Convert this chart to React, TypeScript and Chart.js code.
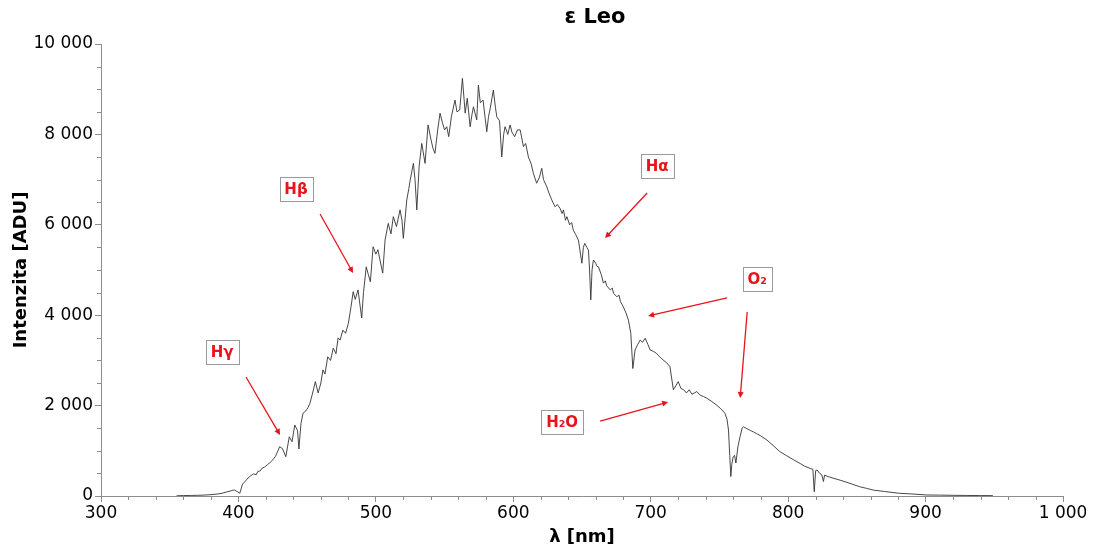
import { useEffect, useRef } from 'react';
import { Chart, registerables } from 'chart.js';

Chart.register(...registerables);

// ---- data ----
const wavelengths = [
  355, 360, 365, 370, 375, 380, 385, 388, 391, 394, 397, 399, 401, 403, 406, 408, 410, 411, 413, 414, 416, 417, 419, 421,
  423, 425, 427, 430, 432, 434.5, 437, 439, 441, 443, 444, 445.5, 447, 449, 450.5, 452, 454, 456, 458, 460, 461.5,
  463, 465, 467, 469, 471, 472.5, 474, 476, 478, 480, 482, 483.5, 485, 487, 489.7, 491, 493, 494.5, 496, 498,
  500, 501.5, 503, 505, 506.7, 509, 511, 512.7, 515, 517.6, 519, 520, 522.5, 524, 525, 527.3, 528.5, 529.8, 531.5, 533.4,
  535.8, 538, 540, 541.5, 543, 545, 546.7, 548.5, 550, 551.6, 553, 555, 557.6, 559, 561, 563, 565, 566.5, 568.6, 570,
  571, 573.4, 574.6, 576, 578, 580.7, 582, 583, 585.5, 587, 588, 590, 591.6, 593, 594, 596, 597.7, 599, 601, 603,
  605, 607.4, 609, 611, 613, 614.6, 617, 619, 620.7, 622, 624.4, 626, 628, 630.4, 632, 634, 635.5, 636.5, 638, 639, 641, 642.5, 643.7,
  645.5, 647.4, 649.9, 651, 652, 653.5, 654.7, 655.5, 656.4, 657.3, 658.3, 660, 661, 662, 664, 665.6, 667, 668, 670.5, 672, 673, 675.3, 677, 678,
  680, 682, 683.8, 685.5, 687, 688.6, 690.5, 692.3, 694, 696, 698, 699.6, 702, 704, 706.5, 709, 711.5, 714, 716.5, 718.5,
  720, 722, 724, 726, 728, 730, 733.5, 736, 738.5, 741, 744.5, 748, 751, 754, 755.5, 756.6, 757.5, 758.3, 759, 760,
  761, 762, 763.5, 765, 766.5, 767.5, 770, 772.5, 774.7, 777, 780, 784.5, 789, 794, 799, 804, 808.7, 812, 816, 818,
  819, 820, 821, 823, 824.5, 825.7, 826.5, 830, 837.8, 845, 852, 857, 862, 870, 881, 890, 901, 910, 920, 930,
  940, 949,
];

const intensity = [
  5, 10, 12, 15, 20, 30, 45, 60, 85, 110, 135, 100, 60, 265, 360, 430, 470, 490, 470, 540, 560, 610, 640, 690,
  740, 800, 880, 1090, 1050, 870, 1310, 1200, 1570, 1450, 1040, 1600, 1830, 1880, 1950, 2050, 2280, 2530, 2280, 2500, 2790,
  2700, 3080, 3000, 3270, 3150, 3500, 3450, 3670, 3600, 3820, 4200, 4520, 4350, 4560, 3940, 4500, 5070, 4900, 4740, 5515,
  5350, 5450, 5220, 4930, 5660, 6030, 5800, 6180, 5960, 6330, 6100, 5700, 6550, 6800, 6990, 7360, 7000, 6330, 7300, 7800,
  7360, 8210, 7900, 7700, 7580, 8100, 8470, 8250, 8100, 8170, 7950, 8400, 8760, 8500, 8540, 9240, 8470, 8800, 8170, 8450,
  8610, 8320, 9090, 8700, 8760, 8060, 8400, 8540, 8980, 8600, 8390, 8300, 7500, 8000, 8170, 8000, 8210, 8050, 7950, 8100,
  8100, 7730, 7800, 7500, 7350, 7140, 6920, 7050, 7250, 7000, 6840, 6700, 6550, 6400, 6450, 6365, 6250, 6330, 6100, 6180, 6000, 6050, 5880,
  5780, 5660, 5150, 5500, 5590, 5500, 5440, 5000, 4340, 5000, 5220, 5150, 5080, 5070, 4900, 4710, 4760, 4650, 4560, 4600, 4480, 4410, 4440, 4300,
  4190, 4050, 3890, 3600, 2820, 3230, 3350, 3450, 3400, 3490, 3350, 3230, 3200, 3160, 3080, 3010, 2950, 2860, 2350, 2450,
  2530, 2380, 2350, 2280, 2350, 2250, 2310, 2230, 2200, 2160, 2090, 2010, 1930, 1830, 1700, 1460, 900, 430, 700, 870,
  900, 730, 1100, 1310, 1500, 1530, 1490, 1450, 1420, 1380, 1330, 1240, 1120, 980, 890, 800, 720, 660, 610, 590,
  95, 560, 575, 500, 465, 320, 460, 420, 350, 280, 205, 170, 130, 100, 60, 45, 22, 20, 15, 12,
  10, 8,
];

const xTickValues = [300, 400, 500, 600, 700, 800, 900, 1000];
const yTickValues = [0, 2000, 4000, 6000, 8000, 10000];
const xMinorStep = 20;
const yMinorStep = 500;

const chartTitle = 'ε Leo';
const xAxisTitle = 'λ [nm]';
const yAxisTitle = 'Intenzita [ADU]';

// annotation labels with their box centre and arrows, in data units (nm, ADU)
const annotationLabels = ['Hγ', 'Hβ', 'Hα', 'O₂', 'H₂O'];
const annotationBoxes: [number, number][] = [
  [388.1, 3186],
  [441.9, 6792],
  [704.7, 7301],
  [777.4, 4801],
  [635.5, 1637],
];
const annotationArrows: [number, number, number, number][][] = [
  [[405.5, 2633, 430.3, 1350]],
  [[459.4, 6239, 483.4, 4934]],
  [[697.4, 6704, 666.8, 5708]],
  [[755.6, 4381, 698.1, 3982], [770.2, 4071, 765.1, 2168]],
  [[663.2, 1659, 712.7, 2080]],
];

const fmt = (v: number) => String(Math.round(v)).replace(/\B(?=(\d{3})+(?!\d))/g, ' ');

const AXIS_COLOR = '#8c8c8c';
const RED = '#e8141b';
const FONT = "'DejaVu Sans', Verdana, sans-serif";

const overlayPlugin = {
  id: 'overlay',
  afterDraw(chart: any) {
    const { ctx, chartArea, scales } = chart;
    const xs = scales.x;
    const ys = scales.y;
    ctx.save();

    // minor ticks
    ctx.strokeStyle = AXIS_COLOR;
    ctx.lineWidth = 1;
    ctx.beginPath();
    for (let v = xs.min; v <= xs.max + 1e-6; v += xMinorStep) {
      if (xTickValues.includes(v)) continue;
      const px = Math.round(xs.getPixelForValue(v)) + 0.5;
      ctx.moveTo(px, chartArea.bottom);
      ctx.lineTo(px, chartArea.bottom + 4);
    }
    for (let v = ys.min; v <= ys.max + 1e-6; v += yMinorStep) {
      if (yTickValues.includes(v)) continue;
      const py = Math.round(ys.getPixelForValue(v)) + 0.5;
      ctx.moveTo(chartArea.left, py);
      ctx.lineTo(chartArea.left - 4, py);
    }
    ctx.stroke();

    // title
    ctx.fillStyle = '#000';
    ctx.textAlign = 'center';
    ctx.textBaseline = 'middle';
    ctx.font = `bold 21px ${FONT}`;
    ctx.fillText(chartTitle, (chartArea.left + chartArea.right) / 2 + 13, 10);

    // axis titles
    ctx.font = `bold 18px ${FONT}`;
    ctx.fillText(xAxisTitle, (chartArea.left + chartArea.right) / 2, chartArea.bottom + 41);
    ctx.save();
    ctx.translate(13, (chartArea.top + chartArea.bottom) / 2);
    ctx.rotate(-Math.PI / 2);
    ctx.fillText(yAxisTitle, 0, 0);
    ctx.restore();

    // annotations
    annotationLabels.forEach((label, i) => {
      const [bx, by] = annotationBoxes[i];
      const cx = xs.getPixelForValue(bx);
      const cy = ys.getPixelForValue(by);
      ctx.font = `bold 15px ${FONT}`;
      const w = Math.round(ctx.measureText(label).width + 10);
      const h = 24;
      const left = Math.round(cx - w / 2) + 0.5;
      const top = Math.round(cy - h / 2) + 0.5;
      ctx.fillStyle = '#fff';
      ctx.fillRect(left, top, w, h);
      ctx.strokeStyle = '#9a9a9a';
      ctx.lineWidth = 1;
      ctx.strokeRect(left, top, w, h);
      ctx.fillStyle = RED;
      ctx.textAlign = 'center';
      ctx.textBaseline = 'middle';
      ctx.fillText(label, cx, cy + 1);

      annotationArrows[i].forEach(([x1, y1, x2, y2]) => {
        const p1x = xs.getPixelForValue(x1);
        const p1y = ys.getPixelForValue(y1);
        const p2x = xs.getPixelForValue(x2);
        const p2y = ys.getPixelForValue(y2);
        const ang = Math.atan2(p2y - p1y, p2x - p1x);
        const headLen = 6;
        const headW = 3;
        ctx.strokeStyle = RED;
        ctx.lineWidth = 1.3;
        ctx.beginPath();
        ctx.moveTo(p1x, p1y);
        ctx.lineTo(p2x - Math.cos(ang) * headLen * 0.8, p2y - Math.sin(ang) * headLen * 0.8);
        ctx.stroke();
        ctx.fillStyle = RED;
        ctx.beginPath();
        ctx.moveTo(p2x, p2y);
        ctx.lineTo(
          p2x - Math.cos(ang) * headLen + Math.sin(ang) * headW,
          p2y - Math.sin(ang) * headLen - Math.cos(ang) * headW
        );
        ctx.lineTo(
          p2x - Math.cos(ang) * headLen - Math.sin(ang) * headW,
          p2y - Math.sin(ang) * headLen + Math.cos(ang) * headW
        );
        ctx.closePath();
        ctx.fill();
      });
    });

    ctx.restore();
  },
};

export default function App() {
  const canvasRef = useRef<HTMLCanvasElement | null>(null);

  useEffect(() => {
    if (!canvasRef.current) return;
    const points = wavelengths.map((x, i) => ({ x, y: intensity[i] }));
    const chart = new Chart(canvasRef.current, {
      type: 'line',
      data: {
        datasets: [
          {
            data: points,
            borderColor: '#333333',
            borderWidth: 0.9,
            pointRadius: 0,
            tension: 0,
            fill: false,
          },
        ],
      },
      options: {
        animation: false,
        responsive: true,
        maintainAspectRatio: false,
        layout: { padding: { top: 36, right: 23, left: 0, bottom: 0 } },
        plugins: {
          legend: { display: false },
          tooltip: { enabled: false },
          title: { display: false },
        },
        scales: {
          x: {
            type: 'linear',
            min: 300,
            max: 1000,
            afterBuildTicks: (scale: any) => {
              scale.ticks = xTickValues.map((value) => ({ value }));
            },
            afterFit: (scale: any) => {
              scale.height = 50;
              scale.paddingLeft = 0;
              scale.paddingRight = 0;
            },
            ticks: {
              callback: (v: any) => fmt(Number(v)),
              color: '#000',
              font: { family: FONT, size: 17 },
              padding: 1,
              maxRotation: 0,
              autoSkip: false,
            },
            grid: {
              display: true,
              drawOnChartArea: false,
              drawTicks: true,
              tickLength: 6,
              tickColor: AXIS_COLOR,
              color: AXIS_COLOR,
            },
            border: { display: true, color: AXIS_COLOR },
          },
          y: {
            type: 'linear',
            min: 0,
            max: 10000,
            afterBuildTicks: (scale: any) => {
              scale.ticks = yTickValues.map((value) => ({ value }));
            },
            afterFit: (scale: any) => {
              scale.width = 93;
              scale.paddingTop = 0;
              scale.paddingBottom = 0;
            },
            ticks: {
              callback: (v: any) => fmt(Number(v)),
              color: '#000',
              font: { family: FONT, size: 17 },
              padding: 2,
              autoSkip: false,
            },
            grid: {
              display: true,
              drawOnChartArea: false,
              drawTicks: true,
              tickLength: 6,
              tickColor: AXIS_COLOR,
              color: AXIS_COLOR,
            },
            border: { display: true, color: AXIS_COLOR },
          },
        },
      },
      plugins: [overlayPlugin],
    });
    return () => chart.destroy();
  }, []);

  return (
    <div style={{ width: 1078, height: 538, position: 'relative' }}>
      <canvas ref={canvasRef} />
    </div>
  );
}
